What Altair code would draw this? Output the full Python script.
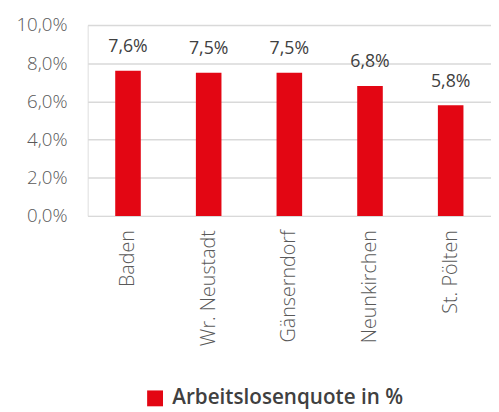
import altair as alt
import pandas as pd

bezirke = ["Baden", "Wr. Neustadt", "Gänserndorf", "Neunkirchen", "St. Pölten"]
quote = [7.6, 7.5, 7.5, 6.8, 5.8]
serie = "Arbeitslosenquote in %"
y_ticks = [0, 0.02, 0.04, 0.06, 0.08, 0.10]

df = pd.DataFrame({"Bezirk": bezirke, "Quote": [v / 100 for v in quote], "Serie": serie})

FONT = "Open Sans"

x = alt.X("Bezirk:N", sort=bezirke, title=None,
          scale=alt.Scale(paddingInner=0.0, paddingOuter=0.0),
          axis=alt.Axis(labelAngle=-90, labelAlign="right", labelBaseline="middle",
                        labelFontSize=20, labelColor="#595959", labelFont=FONT,
                        labelFontWeight=300,
                        labelPadding=14, ticks=False, domain=False, grid=False))

y = alt.Y("Quote:Q", title=None,
          scale=alt.Scale(domain=[0, 0.10], nice=False),
          axis=alt.Axis(values=y_ticks, format=".1%",
                        labelFontSize=19, labelColor="#595959", labelFont=FONT,
                        labelFontWeight=300, labelOverlap=False,
                        labelPadding=21, ticks=False, domain=False,
                        gridColor="#d9d9d9", gridWidth=1.5))

bars = alt.Chart(df).mark_bar(size=26).encode(
    x=x, y=y,
    color=alt.Color("Serie:N", title=None,
                    scale=alt.Scale(range=["#e30613"]),
                    legend=alt.Legend(orient="none", legendX=58, legendY=369,
                                      symbolType="square", symbolSize=260,
                                      symbolStrokeWidth=0,
                                      labelFontSize=21, labelColor="#404040",
                                      labelFont=FONT, labelFontWeight=600,
                                      labelLimit=400, labelOffset=7)),
)

labels = alt.Chart(df).mark_text(dy=-24, fontSize=18, fontWeight=400,
                                 color="#404040", font=FONT).encode(
    x=x, y=y,
    text=alt.Text("Quote:Q", format=".1%"),
)

chart = (bars + labels).properties(
    width=410, height=194,
    autosize=alt.AutoSizeParams(type="none"),
    padding={"left": 81, "top": 14, "right": 0, "bottom": 195},
).configure_view(stroke=None).configure_axis(labelOverlap=False).configure(
    locale={"number": {"decimal": ",", "thousands": ".", "grouping": [3],
                       "currency": ["", " €"]}}
)

chart.save("out.html", embed_options={"renderer": "svg", "actions": False})
